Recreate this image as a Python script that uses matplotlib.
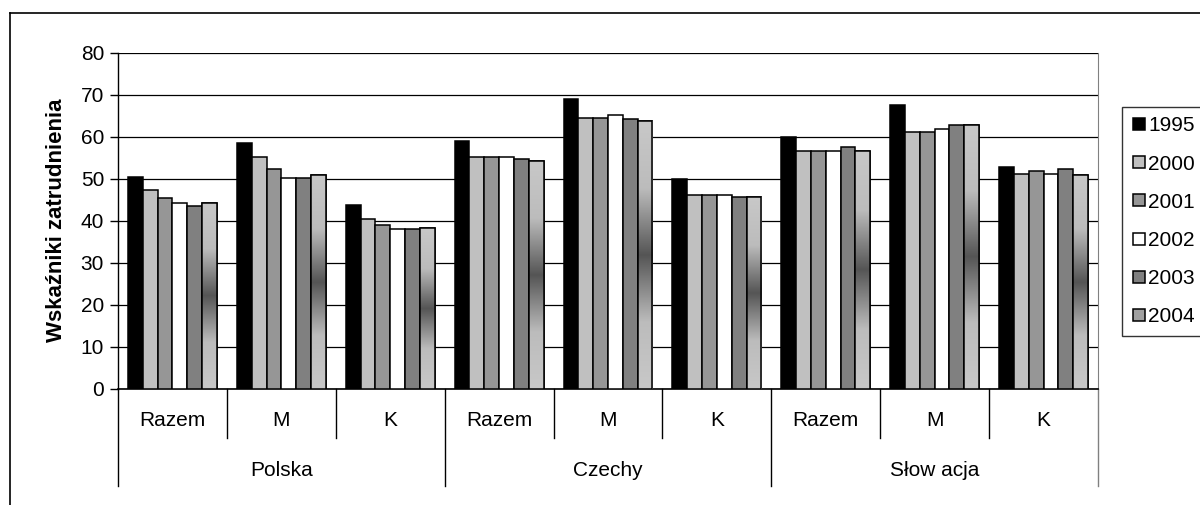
import numpy as np
import matplotlib
matplotlib.use('Agg')
import matplotlib.pyplot as plt
from matplotlib.colors import LinearSegmentedColormap
from matplotlib.lines import Line2D
from matplotlib.transforms import blended_transform_factory

plt.rcParams['font.family'] = ['Liberation Sans', 'DejaVu Sans']

# Data
years = ['1995', '2000', '2001', '2002', '2003', '2004']
subcats = ['Razem', 'M', 'K', 'Razem', 'M', 'K', 'Razem', 'M', 'K']
countries = ['Polska', 'Czechy', 'Słow acja']
v1995 = [50.5, 58.6, 43.9, 59.0, 69.1, 50.0, 60.0, 67.6, 52.9]
v2000 = [47.5, 55.2, 40.4, 55.2, 64.6, 46.2, 56.7, 61.3, 51.2]
v2001 = [45.5, 52.3, 39.0, 55.2, 64.6, 46.2, 56.7, 61.3, 51.9]
v2002 = [44.2, 50.2, 38.1, 55.2, 65.3, 46.2, 56.7, 61.8, 51.2]
v2003 = [43.6, 50.2, 38.1, 54.7, 64.2, 45.7, 57.6, 62.9, 52.3]
v2004 = [44.4, 50.9, 38.3, 54.2, 63.8, 45.7, 56.7, 62.9, 50.9]
series = [v1995, v2000, v2001, v2002, v2003, v2004]
colors = ['#000000', '#c0c0c0', '#969696', '#ffffff', '#808080', '#a0a0a0']

W, H = 1200, 505
fs = 15
fig = plt.figure(figsize=(W / 100, H / 100), dpi=100)

# outer frame of the chart object
fig.add_artist(Line2D([10 / W, 1], [1 - 13 / H, 1 - 13 / H], color='black', lw=1.2))
fig.add_artist(Line2D([10 / W, 10 / W], [0, 1 - 13 / H], color='black', lw=1.2))

# plot area in pixels
x0, x1, ytop, ybot = 118, 1098, 53, 389
ax = fig.add_axes([x0 / W, 1 - ybot / H, (x1 - x0) / W, (ybot - ytop) / H])

n = len(subcats)
x = np.arange(n)
bw = 0.136
offsets = (np.arange(len(years)) - 2.5) * bw

grad_cmap = LinearSegmentedColormap.from_list('g', ['#c8c8c8', '#bcbcbc', '#555555', '#bcbcbc', '#c8c8c8'])
grad = np.linspace(0, 1, 256).reshape(-1, 1)

for i, (vals, c) in enumerate(zip(series, colors)):
    bars = ax.bar(x + offsets[i], vals, width=bw, color=c, edgecolor='black',
                  linewidth=1.1, zorder=3)
    if i == 5:
        # vertical gradient fill for the last year
        for b in bars:
            bx, by = b.get_x(), b.get_height()
            im = ax.imshow(grad, extent=[bx, bx + bw, 0, by], aspect='auto',
                           cmap=grad_cmap, zorder=3.5, origin='lower')
            im.set_clip_path(b)
            ax.bar(bx + bw / 2, by, width=bw, color='none', edgecolor='black',
                   linewidth=1.1, zorder=4)

ax.set_xlim(-0.5, n - 0.5)
ax.set_ylim(0, 80)
ax.set_yticks(range(0, 81, 10))
ax.tick_params(axis='y', direction='out', length=6, width=1, labelsize=fs, pad=4)
ax.set_xticks([])
ax.yaxis.grid(True, color='black', lw=0.9)
ax.set_axisbelow(True)
ax.spines['top'].set_visible(False)
ax.spines['right'].set_color('#808080')
ax.spines['left'].set_linewidth(1)
ax.spines['bottom'].set_linewidth(1.2)

# category axis with two levels of labels
trans = blended_transform_factory(ax.transData, ax.transAxes)
ah = ybot - ytop
y_short = -(438 - ybot) / ah
y_long = -(486 - ybot) / ah
for k in range(n + 1):
    xs = k - 0.5
    if k % 3 == 0:
        col = '#808080' if k == n else 'black'
        ax.plot([xs, xs], [0, y_long], transform=trans, color=col, lw=1, clip_on=False)
    else:
        ax.plot([xs, xs], [0, y_short], transform=trans, color='black', lw=1, clip_on=False)
for k, s in enumerate(subcats):
    ax.text(k, -(421 - ybot) / ah, s, transform=trans, ha='center', va='center', fontsize=fs)
for g, s in enumerate(countries):
    ax.text(3 * g + 1, -(470 - ybot) / ah, s, transform=trans, ha='center', va='center', fontsize=fs)

fig.text(57 / W, 1 - 220 / H, 'Wskaźniki zatrudnienia', rotation=90, ha='center',
         va='center', fontsize=16, fontweight='bold')

# legend
handles = [Line2D([], [], ls='none', marker='s', markersize=8.5, markerfacecolor=c,
                  markeredgecolor='black', markeredgewidth=1.1) for c in colors]
leg = fig.legend(handles, years, loc='upper left', bbox_to_anchor=(1122 / W, 1 - 107 / H),
                 borderaxespad=0, fontsize=fs, frameon=True, fancybox=False,
                 handlelength=0.7, handletextpad=0.12, borderpad=0.45, labelspacing=0.92)
leg.get_frame().set_edgecolor('black')
leg.get_frame().set_linewidth(1)

fig.savefig('out.png', dpi=100)
